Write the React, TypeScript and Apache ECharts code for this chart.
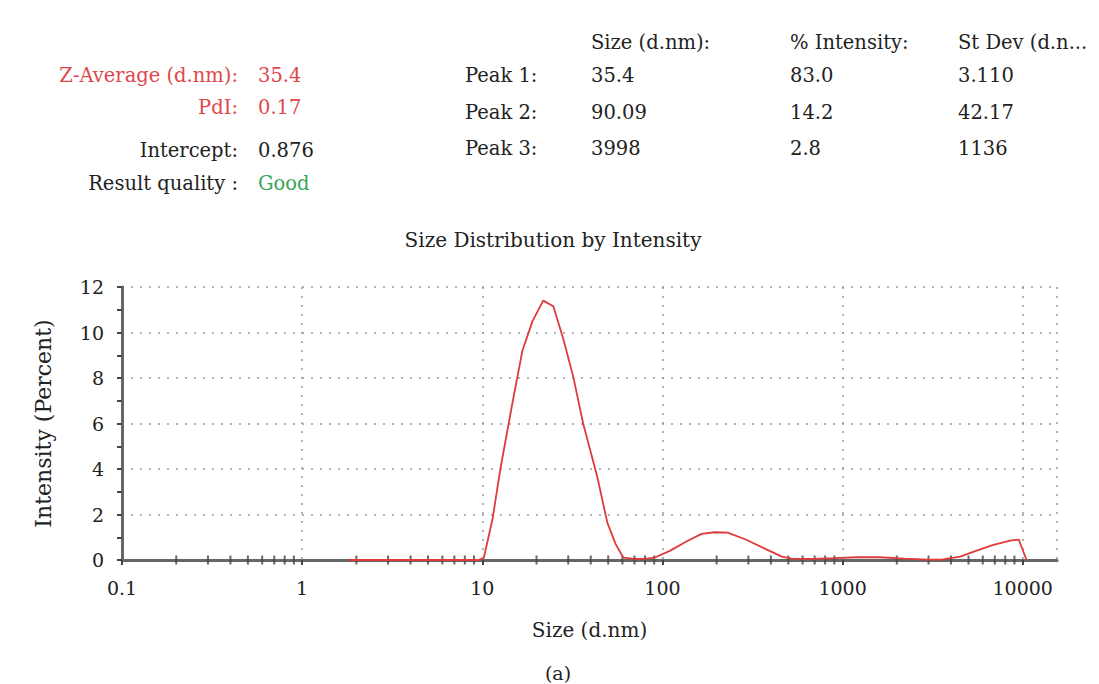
import React, { useEffect, useRef } from "react";
import * as echarts from "echarts";

// ---- data ----
const sizes = [1.8, 2.5, 3.5, 5, 7, 9.5, 10.2, 11.4, 12.6, 14.7, 16.7, 19, 21.8, 24.8, 28.2, 32, 36.3, 43.5, 49.5, 55, 60.7, 70, 80, 90, 110, 135, 165, 195, 230, 290, 370, 460, 530, 700, 900, 1200, 1600, 2200, 3000, 3600, 4500, 5500, 6800, 8500, 9500, 10500];
const intensity = [0, 0, 0, 0, 0, 0, 0.1, 1.8, 4.0, 6.9, 9.2, 10.5, 11.4, 11.15, 9.7, 8.05, 6.0, 3.65, 1.63, 0.7, 0.1, 0.05, 0.05, 0.1, 0.4, 0.8, 1.15, 1.22, 1.2, 0.9, 0.5, 0.15, 0.05, 0.05, 0.08, 0.12, 0.12, 0.06, 0.02, 0.03, 0.15, 0.4, 0.65, 0.85, 0.9, 0];
const minorTickSizes = [0.2, 0.3, 0.4, 0.5, 0.6, 0.7, 0.8, 0.9, 2, 3, 4, 5, 6, 7, 8, 9, 20, 30, 40, 50, 60, 70, 80, 90, 200, 300, 400, 500, 600, 700, 800, 900, 2000, 3000, 4000, 5000, 6000, 7000, 8000, 9000];

const summaryLabels = ["Z-Average (d.nm):", "PdI:", "Intercept:", "Result quality :"];
const summaryValues = ["35.4", "0.17", "0.876", "Good"];
const tableHeaders = ["Size (d.nm):", "% Intensity:", "St Dev (d.n..."];
const peakNames = ["Peak 1:", "Peak 2:", "Peak 3:"];
const peakSizes = ["35.4", "90.09", "3998"];
const peakIntensity = ["83.0", "14.2", "2.8"];
const peakStDev = ["3.110", "42.17", "1136"];

const FONT = "DejaVu Serif";
const RED = "#e0474c";
const GREEN = "#3aa65a";
const DARK = "#222";

export default function App() {
  const ref = useRef<HTMLDivElement>(null);
  useEffect(() => {
    if (!ref.current) return;
    const chart = echarts.init(ref.current, undefined, { renderer: "svg" });

    const summaryY = [75, 107, 150, 183];
    const summaryColors = [RED, RED, DARK, DARK];
    const valueColors = [RED, RED, DARK, GREEN];
    const graphics: any[] = [];
    const f = `19.5px "${FONT}"`;
    summaryLabels.forEach((t, i) => {
      graphics.push({
        type: "text", x: 238, y: summaryY[i],
        style: { text: t, fill: summaryColors[i], font: f, textAlign: "right", textVerticalAlign: "middle" },
      });
      graphics.push({
        type: "text", x: 258, y: summaryY[i],
        style: { text: summaryValues[i], fill: valueColors[i], font: f, textAlign: "left", textVerticalAlign: "middle" },
      });
    });
    const colX = [591, 790, 958];
    tableHeaders.forEach((t, i) => {
      graphics.push({
        type: "text", x: colX[i], y: 42,
        style: { text: t, fill: DARK, font: f, textAlign: "left", textVerticalAlign: "middle" },
      });
    });
    const rowY = [75, 112, 148];
    peakNames.forEach((t, i) => {
      const cells = [t, peakSizes[i], peakIntensity[i], peakStDev[i]];
      const xs = [465, ...colX];
      cells.forEach((c, j) => {
        graphics.push({
          type: "text", x: xs[j], y: rowY[i],
          style: { text: c, fill: DARK, font: f, textAlign: "left", textVerticalAlign: "middle" },
        });
      });
    });
    graphics.push({
      type: "text", x: 558, y: 673,
      style: { text: "(a)", fill: DARK, font: `19px "${FONT}"`, textAlign: "center", textVerticalAlign: "middle" },
    });
    graphics.push({
      type: "text", x: 553, y: 240,
      style: { text: "Size Distribution by Intensity", fill: DARK, font: `20px "${FONT}"`, textAlign: "center", textVerticalAlign: "middle" },
    });

    chart.setOption({
      animation: false,
      backgroundColor: "#fff",
      graphic: graphics,
      grid: { left: 122, right: 42, top: 287, bottom: 124 },
      xAxis: {
        type: "log", logBase: 10, min: 0.1, max: 15500,
        name: "Size (d.nm)", nameLocation: "middle", nameGap: 60,
        nameTextStyle: { fontFamily: FONT, fontSize: 20, color: DARK },
        axisLine: { show: true, lineStyle: { color: "#666", width: 3 } },
        axisTick: { show: true, length: 5, lineStyle: { color: "#444", width: 2 } },
        axisLabel: {
          fontFamily: FONT, fontSize: 19, color: DARK, margin: 18,
          formatter: (v: number) => (v >= 1 ? String(Math.round(v)) : String(v)),
          showMaxLabel: false,
        },
        splitLine: { show: true, lineStyle: { type: [2, 7], color: "#999", width: 1.5 } },
      },
      yAxis: {
        type: "value", min: 0, max: 12, interval: 2,
        name: "Intensity (Percent)", nameLocation: "middle", nameGap: 68,
        nameTextStyle: { fontFamily: FONT, fontSize: 22, color: DARK },
        axisLine: { show: true, lineStyle: { color: "#666", width: 3 } },
        axisTick: { show: true, length: 5, lineStyle: { color: "#444", width: 2 } },
        minorTick: { show: true, splitNumber: 2, length: 5, lineStyle: { color: "#444", width: 2 } },
        axisLabel: { fontFamily: FONT, fontSize: 19, color: DARK, margin: 18 },
        splitLine: { show: true, lineStyle: { type: [2, 7], color: "#999", width: 1.5 } },
      },
      series: [
        {
          type: "scatter",
          data: minorTickSizes.map((s) => [s, 0]),
          symbol: "rect", symbolSize: [2, 9],
          itemStyle: { color: "#444" },
          silent: true, z: 1,
        },
        {
          type: "line",
          data: sizes.map((s, i) => [s, intensity[i]]),
          showSymbol: false, symbol: "none",
          lineStyle: { color: "#e03a3a", width: 1.8 },
          z: 3,
        },
      ],
    });
    return () => chart.dispose();
  }, []);
  return <div ref={ref} style={{ position: "absolute", left: 0, top: 0, width: 1099, height: 684 }} />;
}
